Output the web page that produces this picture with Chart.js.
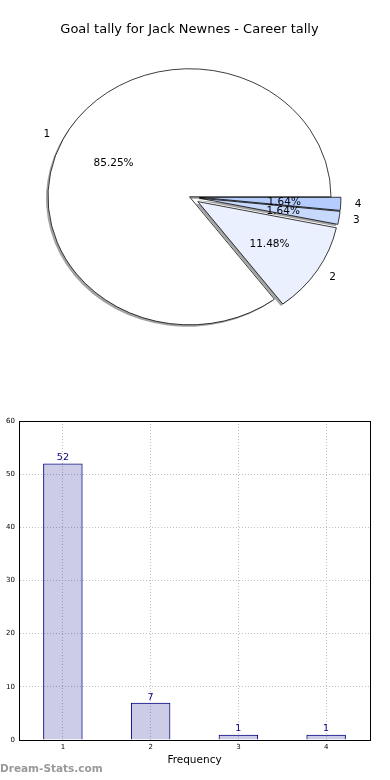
<!DOCTYPE html>
<html lang="en">
<head>
<meta charset="UTF-8">
<title>Goal tally for Jack Newnes - Career tally</title>
<script src="https://cdn.jsdelivr.net/npm/chart.js"></script>
<style>
    body {
        margin: 0;
        background: #fff;
        width: 390px;
        height: 780px;
        position: relative;
        overflow: hidden;
        font-family: "DejaVu Sans", sans-serif;
    }

    #pieChart {
        position: absolute;
        left: 0;
        top: 0;
    }

    #barChart {
        position: absolute;
        left: 0;
        top: 400px;
    }

    .watermark {
        position: absolute;
        left: 0;
        top: 762px;
        font-size: 10.5px;
        font-weight: bold;
        color: #999;
    }
</style>
</head>
<body>
<canvas id="pieChart" width="390" height="356"></canvas>
<canvas id="barChart" width="390" height="380"></canvas>
<div class="watermark">Dream-Stats.com</div>

<script>
    // goals scored in a game -> number of games
    const goals = ["1", "2", "3", "4"];
    const games = [52, 7, 1, 1];
    const yTicks = [0, 10, 20, 30, 40, 50, 60];

    const sliceColors = ["#ffffff", "#eaf0fe", "#c8d9fe", "#b4cdfe"];
    const explode = [0, 0.07, 0.07, 0.07];
    const squash = 0.905; // the pie is drawn as an oval

    Chart.defaults.font.family = "DejaVu Sans";
    Chart.defaults.color = "#000";

    // matplotlib goes counter clockwise from 3 o'clock, chart.js clockwise
    const rev = a => a.slice().reverse();
    const pieLabels = rev(goals);
    const pieValues = rev(games);
    const pieColors = rev(sliceColors);
    const pieExplode = rev(explode);
    const total = games.reduce((a, b) => a + b, 0);

    function slicePoint(arc, i, f) {
        const mid = (arc.startAngle + arc.endAngle) / 2;
        const d = (pieExplode[i] + f) * arc.outerRadius;
        return {
            x: arc.x + Math.cos(mid) * d,
            y: arc.y + Math.sin(mid) * d * squash,
            right: Math.cos(mid) >= 0
        };
    }

    const ovalPie = {
        id: "ovalPie",
        beforeDatasetsDraw(chart) {
            const ctx = chart.ctx;
            const arcs = chart.getDatasetMeta(0).data;
            const place = (arc, i) => {
                const mid = (arc.startAngle + arc.endAngle) / 2;
                const d = pieExplode[i] * arc.outerRadius;
                ctx.translate(arc.x, arc.y);
                ctx.scale(1, squash);
                ctx.translate(-arc.x + Math.cos(mid) * d, -arc.y + Math.sin(mid) * d);
            };
            // shadows under all wedges
            arcs.forEach((arc, i) => {
                ctx.save();
                ctx.translate(-2, 2);
                place(arc, i);
                ctx.beginPath();
                ctx.moveTo(arc.x, arc.y);
                ctx.arc(arc.x, arc.y, arc.outerRadius, arc.startAngle, arc.endAngle);
                ctx.closePath();
                ctx.fillStyle = "#a3a3a3";
                ctx.fill();
                ctx.restore();
            });
            arcs.forEach((arc, i) => {
                ctx.save();
                place(arc, i);
                arc.draw(ctx);
                ctx.restore();
            });
            return false;
        },
        afterDraw(chart) {
            const ctx = chart.ctx;
            const arcs = chart.getDatasetMeta(0).data;
            ctx.save();
            ctx.font = '10.5px "DejaVu Sans"';
            ctx.fillStyle = "#000";
            ctx.textBaseline = "middle";
            arcs.forEach((arc, i) => {
                const out = slicePoint(arc, i, 1.1);
                ctx.textAlign = out.right ? "left" : "right";
                ctx.fillText(pieLabels[i], out.x, out.y);
                const inn = slicePoint(arc, i, 0.6);
                ctx.textAlign = "center";
                ctx.fillText((pieValues[i] / total * 100).toFixed(2) + "%", inn.x, inn.y + 1);
            });
            ctx.restore();
        }
    };

    new Chart(document.getElementById("pieChart"), {
        type: "pie",
        data: {
            labels: pieLabels,
            datasets: [{
                data: pieValues,
                backgroundColor: pieColors,
                borderColor: "#000",
                borderWidth: 0.8
            }]
        },
        options: {
            responsive: false,
            animation: false,
            rotation: 90,
            radius: 141.5,
            layout: { padding: { right: 11 } },
            plugins: {
                legend: { display: false },
                tooltip: { enabled: false },
                title: {
                    display: true,
                    text: "Goal tally for Jack Newnes - Career tally",
                    color: "#000",
                    font: { size: 13, weight: "normal" },
                    padding: { top: 22, bottom: 0 }
                }
            }
        },
        plugins: [ovalPie]
    });

    const frame = {
        id: "frame",
        afterDraw(chart) {
            const a = chart.chartArea;
            const ctx = chart.ctx;
            ctx.save();
            ctx.strokeStyle = "#000";
            ctx.lineWidth = 1;
            ctx.strokeRect(Math.round(a.left) + 0.5, Math.round(a.top) + 0.5,
                Math.round(a.width), Math.round(a.height));
            ctx.restore();
        }
    };

    const barValues = {
        id: "barValues",
        afterDatasetsDraw(chart) {
            const ctx = chart.ctx;
            ctx.save();
            ctx.font = '9.5px "DejaVu Sans"';
            ctx.fillStyle = "#000080";
            ctx.textAlign = "center";
            ctx.textBaseline = "bottom";
            chart.getDatasetMeta(0).data.forEach((bar, i) => {
                ctx.fillText(String(games[i]), bar.x, bar.y - 1);
            });
            ctx.restore();
        }
    };

    const dotted = { color: "#c0c0c0", lineWidth: 1, drawTicks: false };

    new Chart(document.getElementById("barChart"), {
        type: "bar",
        data: {
            labels: goals,
            datasets: [{
                data: games,
                backgroundColor: "rgba(0, 0, 128, 0.2)",
                borderColor: "#000080",
                borderWidth: 1,
                barPercentage: 0.45,
                categoryPercentage: 1
            }]
        },
        options: {
            responsive: false,
            animation: false,
            layout: { padding: { top: 21, right: 20 } },
            plugins: {
                legend: { display: false },
                tooltip: { enabled: false }
            },
            scales: {
                x: {
                    offset: true,
                    grid: Object.assign({ offset: false }, dotted),
                    border: { color: "#000", dash: [1, 2] },
                    ticks: { font: { size: 7 }, color: "#000", padding: 3 },
                    title: {
                        display: true,
                        text: "Frequency",
                        color: "#000",
                        font: { size: 10.5 },
                        padding: { top: 0, bottom: 13 }
                    },
                    afterFit(scale) { scale.height = 40; }
                },
                y: {
                    min: yTicks[0],
                    max: yTicks[yTicks.length - 1],
                    grid: dotted,
                    border: { color: "#000", dash: [1, 2] },
                    ticks: {
                        stepSize: yTicks[1] - yTicks[0],
                        font: { size: 7 },
                        color: "#000",
                        padding: 4
                    },
                    afterFit(scale) { scale.width = 19; }
                }
            }
        },
        plugins: [frame, barValues]
    });
</script>
</body>
</html>
